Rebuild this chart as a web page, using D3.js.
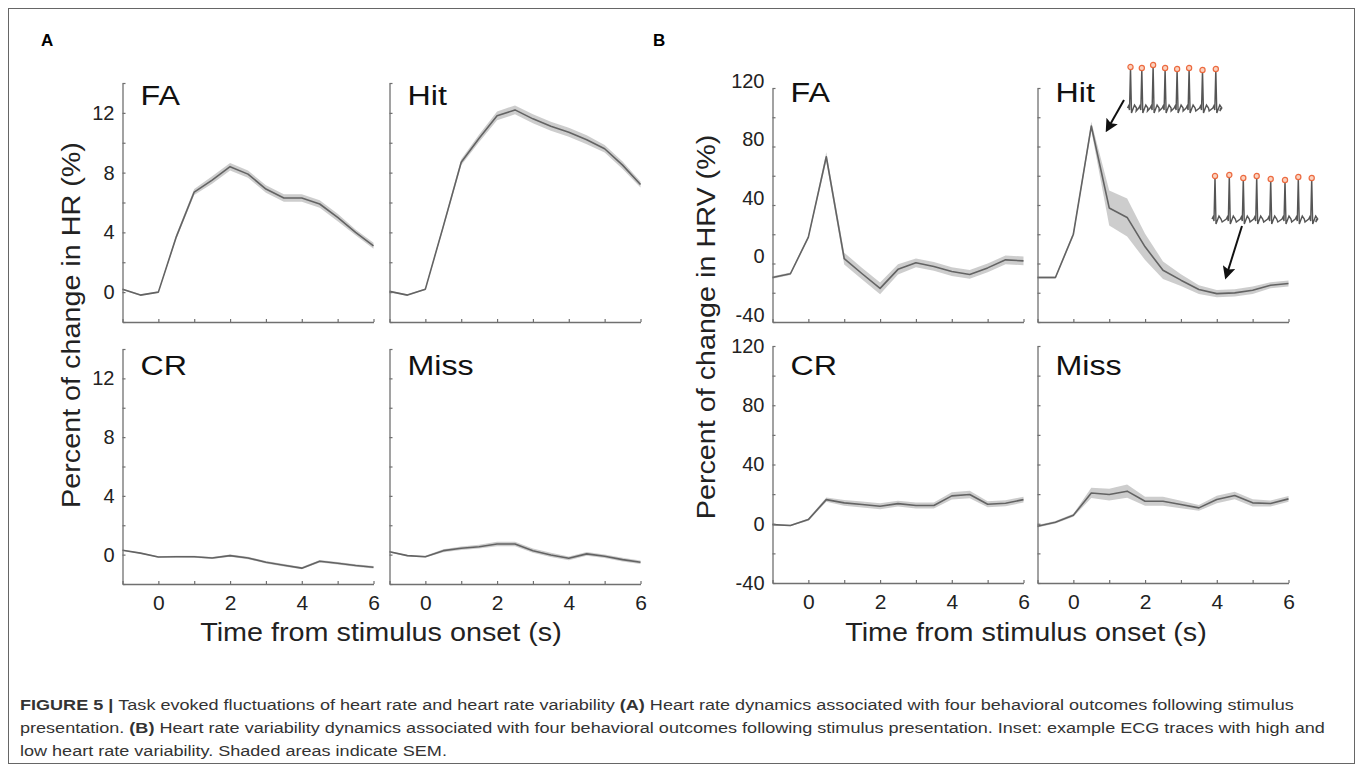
<!DOCTYPE html>
<html>
<head>
<meta charset="utf-8">
<script src="https://cdn.jsdelivr.net/npm/d3@7/dist/d3.min.js"></script>
<style>
  body { margin: 0; background: #fff; }
  text { font-family: "Liberation Sans", Arial, Helvetica, sans-serif; }
</style>
</head>
<body>
<svg id="fig" width="1358" height="773"></svg>
<script>
// time from stimulus onset (s)
var time = [-1, -0.5, 0, 0.5, 1, 1.5, 2, 2.5, 3, 3.5, 4, 4.5, 5, 5.5, 6];

// (A) percent change in HR
var hrFA   = [0.2, -0.2, 0.0, 3.7, 6.7, 7.5, 8.4, 7.9, 6.9, 6.3, 6.3, 5.9, 5.0, 4.0, 3.1];
var hrHit  = [0.05, -0.2, 0.2, 4.4, 8.7, 10.3, 11.8, 12.2, 11.6, 11.1, 10.7, 10.2, 9.6, 8.5, 7.2];
var hrCR   = [0.3, 0.1, -0.16, -0.14, -0.14, -0.23, -0.07, -0.23, -0.52, -0.72, -0.92, -0.45, -0.59, -0.74, -0.86];
var hrMiss = [0.2, -0.07, -0.14, 0.27, 0.43, 0.54, 0.72, 0.72, 0.27, -0.02, -0.25, 0.05, -0.11, -0.34, -0.52];
var hrFAsem   = [0.05, 0.05, 0.05, 0.15, 0.2, 0.25, 0.25, 0.25, 0.25, 0.25, 0.25, 0.25, 0.25, 0.2, 0.2];
var hrHitsem  = [0.05, 0.05, 0.05, 0.15, 0.2, 0.25, 0.3, 0.3, 0.3, 0.3, 0.3, 0.3, 0.25, 0.25, 0.2];
var hrCRsem   = [0.04, 0.04, 0.05, 0.06, 0.07, 0.07, 0.08, 0.08, 0.08, 0.08, 0.08, 0.08, 0.08, 0.08, 0.08];
var hrMisssem = [0.05, 0.05, 0.06, 0.1, 0.12, 0.13, 0.15, 0.15, 0.15, 0.15, 0.13, 0.13, 0.12, 0.12, 0.12];

// (B) percent change in HRV
var hrvFA   = [-9.6, -7, 18, 73, 3.4, -7, -17, -4, 0.5, -2, -5.5, -7.5, -3, 2.5, 1.8];
var hrvHit  = [-9.6, -9.6, 20, 94, 38, 31.5, 11.4, -4.6, -11.4, -17.8, -20.6, -20.1, -18.3, -14.9, -13.7];
var hrvCR   = [-0.6, -1.2, 2.8, 16.3, 14.1, 13, 11.8, 13.6, 12.3, 12.3, 18.8, 19.7, 13.2, 13.8, 16.3];
var hrvMiss = [-1.7, 1, 5.7, 20.8, 19.7, 22, 15.2, 15.2, 13, 10.7, 16.4, 19.1, 14.1, 13.7, 16.8];
var hrvFAsem   = [0.8, 0.8, 1, 3, 4, 4, 4, 3.5, 3, 3, 3, 3, 3, 3, 3];
var hrvHitsem  = [0.8, 0.8, 1.5, 3, 12, 13, 9, 6, 4, 3, 2.5, 2.5, 2.5, 2, 2];
var hrvCRsem   = [0.5, 0.5, 0.8, 1.5, 2, 2, 2, 2, 2, 2, 2.5, 2.5, 2, 2, 2];
var hrvMisssem = [0.8, 0.8, 1, 3.5, 4, 4.5, 3, 3, 2.5, 2, 2.5, 2.5, 2.5, 2, 2];

var hrTicks  = [-2, 0, 2, 4, 6, 8, 10, 12, 14];
var hrLabels = [0, 4, 8, 12];
var hrvTicks  = [-40, -20, 0, 20, 40, 60, 80, 100, 120];
var hrvLabels = [-40, 0, 40, 80, 120];
var xTicks  = [-1, 0, 1, 2, 3, 4, 5, 6];
var xLabels = [0, 2, 4, 6];

var svg = d3.select("#fig");
var axisColor = "#707070";

svg.append("rect")
  .attr("x", 8.5).attr("y", 8.5)
  .attr("width", 1346).attr("height", 755)
  .attr("fill", "none").attr("stroke", "#666").attr("stroke-width", 1);

// panel layout
var panels = [
  { name: "FA",   v: hrFA,    s: hrFAsem,    x0: 122.5, y0: 83,  y1: 322, dom: [-2, 14],   ticks: hrTicks,  labs: hrLabels,  bottom: false, lab: 0,  ty: 104.5 },
  { name: "Hit",  v: hrHit,   s: hrHitsem,   x0: 389.5, y0: 83,  y1: 322, dom: [-2, 14],   ticks: hrTicks,  labs: [],        bottom: false, lab: 0,  ty: 104.5 },
  { name: "CR",   v: hrCR,    s: hrCRsem,    x0: 122.5, y0: 349, y1: 584, dom: [-2, 14],   ticks: hrTicks,  labs: hrLabels,  bottom: true,  lab: 0,  ty: 374.5 },
  { name: "Miss", v: hrMiss,  s: hrMisssem,  x0: 389.5, y0: 349, y1: 584, dom: [-2, 14],   ticks: hrTicks,  labs: [],        bottom: true,  lab: 0,  ty: 374.5 },
  { name: "FA",   v: hrvFA,   s: hrvFAsem,   x0: 772.5, y0: 88,  y1: 322, dom: [-40, 120], ticks: hrvTicks, labs: hrvLabels, bottom: false, lab: -7, ty: 102 },
  { name: "Hit",  v: hrvHit,  s: hrvHitsem,  x0: 1037.5, y0: 88, y1: 322, dom: [-40, 120], ticks: hrvTicks, labs: [],        bottom: false, lab: 0,  ty: 102 },
  { name: "CR",   v: hrvCR,   s: hrvCRsem,   x0: 772.5, y0: 346, y1: 583, dom: [-40, 120], ticks: hrvTicks, labs: hrvLabels, bottom: true,  lab: 0,  ty: 374.5 },
  { name: "Miss", v: hrvMiss, s: hrvMisssem, x0: 1037.5, y0: 346, y1: 583, dom: [-40, 120], ticks: hrvTicks, labs: [],       bottom: true,  lab: 0,  ty: 374.5 }
];
var panelW = 251;

panels.forEach(function (p) {
  var x = d3.scaleLinear().domain([-1, 6]).range([p.x0, p.x0 + panelW]);
  var y = d3.scaleLinear().domain(p.dom).range([p.y1, p.y0]);
  var g = svg.append("g");
  var pts = time.map(function (t, i) { return { t: t, v: p.v[i], s: p.s[i] }; });

  g.append("path")
    .datum(pts)
    .attr("fill", "#c4c4c4")
    .attr("fill-opacity", 0.85)
    .attr("d", d3.area()
      .x(function (d) { return x(d.t); })
      .y0(function (d) { return y(d.v - d.s); })
      .y1(function (d) { return y(d.v + d.s); }));
  g.append("path")
    .datum(pts)
    .attr("fill", "none")
    .attr("stroke", "#636363")
    .attr("stroke-width", 1.6)
    .attr("stroke-linejoin", "round")
    .attr("d", d3.line()
      .x(function (d) { return x(d.t); })
      .y(function (d) { return y(d.v); }));

  var ya = g.append("g")
    .attr("transform", "translate(" + p.x0 + ",0)")
    .call(d3.axisLeft(y).tickValues(p.ticks).tickSize(-3).tickSizeOuter(0).tickPadding(8)
      .tickFormat(function (d) { return p.labs.indexOf(d) >= 0 ? d : ""; }));
  ya.selectAll("text").attr("font-size", 20).attr("fill", "#222").attr("y", p.lab);

  var xa = g.append("g")
    .attr("transform", "translate(0," + p.y1 + ")")
    .call(d3.axisBottom(x).tickValues(xTicks).tickSize(-3).tickSizeOuter(0).tickPadding(11)
      .tickFormat(function (d) { return p.bottom && xLabels.indexOf(d) >= 0 ? d : ""; }));
  xa.selectAll("text").attr("font-size", 21).attr("fill", "#222");

  svg.selectAll(".domain").attr("stroke", axisColor).attr("stroke-width", 1.3);
  svg.selectAll(".tick line").attr("stroke", axisColor).attr("stroke-width", 1.2);

  g.append("text")
    .attr("transform", "translate(" + (p.x0 + 18) + "," + p.ty + ") scale(1.15,1)")
    .attr("font-size", 28)
    .attr("fill", "#111")
    .text(p.name);
});

// axis titles
function wideText(x, y, rot, str) {
  svg.append("text")
    .attr("transform", "translate(" + x + "," + y + ") rotate(" + rot + ") scale(1.15,1)")
    .attr("text-anchor", "middle")
    .attr("font-size", 25)
    .attr("fill", "#222")
    .text(str);
}
wideText(381, 641, 0, "Time from stimulus onset (s)");
wideText(1026, 641, 0, "Time from stimulus onset (s)");
wideText(80, 325, -90, "Percent of change in HR (%)");
wideText(715, 327, -90, "Percent of change in HRV (%)");

// panel letters
svg.append("text").attr("x", 41).attr("y", 46).attr("font-size", 17).attr("font-weight", "bold").text("A");
svg.append("text").attr("x", 653).attr("y", 46).attr("font-size", 17).attr("font-weight", "bold").text("B");

// insets: example ECG traces (high / low HRV)
var ecgHigh = [0, 11.3, 22.6, 34.6, 46.6, 58.6, 72, 85.3];
var ecgHighTop = [3, 4, 1, 4, 5, 4, 6, 5];
var ecgLow = [0, 14.3, 28.3, 41.7, 55.7, 70, 83.3, 96.7];
var ecgLowTop = [1, 0, 3, 1, 4, 5, 2, 3];
function drawEcg(ox, oy, beats, tops) {
  var ig = svg.append("g").attr("transform", "translate(" + ox + "," + oy + ")");
  var d = "M-3,44";
  beats.forEach(function (b, i) {
    var next = i < beats.length - 1 ? beats[i + 1] : b + 8;
    d += " L" + (b - 2) + ",42 L" + (b - 1) + ",46 L" + b + "," + tops[i] +
      " L" + (b + 1) + ",49 L" + (b + 2.5) + ",45 L" + (b + 4) + ",41 L" + (b + 6) + ",44" +
      " L" + ((b + next) / 2) + ",47 L" + (next - 3) + ",44";
  });
  ig.append("path").attr("d", d).attr("fill", "none").attr("stroke", "#555").attr("stroke-width", 1.4);
  ig.selectAll("circle").data(beats).enter().append("circle")
    .attr("cx", function (b) { return b; })
    .attr("cy", function (b, i) { return tops[i]; })
    .attr("r", 2.6)
    .attr("fill", "#fbd3c0")
    .attr("stroke", "#ec6a3f")
    .attr("stroke-width", 1.2);
}
drawEcg(1130.5, 64, ecgHigh, ecgHighTop);
drawEcg(1215, 175, ecgLow, ecgLowTop);

svg.append("defs").append("marker")
  .attr("id", "arr").attr("viewBox", "0 0 10 10")
  .attr("refX", 8).attr("refY", 5)
  .attr("markerWidth", 6.5).attr("markerHeight", 6.5)
  .attr("orient", "auto")
  .append("path").attr("d", "M0,0 L10,5 L0,10 L2,5 Z").attr("fill", "#111");
svg.append("line").attr("x1", 1124).attr("y1", 100).attr("x2", 1107).attr("y2", 130)
  .attr("stroke", "#111").attr("stroke-width", 2).attr("marker-end", "url(#arr)");
svg.append("line").attr("x1", 1242).attr("y1", 226).attr("x2", 1226).attr("y2", 277)
  .attr("stroke", "#111").attr("stroke-width", 2).attr("marker-end", "url(#arr)");

// caption, uniformly condensed so the first line fills its width
var cap = svg.append("g").attr("font-size", 15.5).attr("fill", "#333");
var l1 = cap.append("text").attr("y", 710);
l1.append("tspan").attr("font-weight", "bold").text("FIGURE 5 | ");
l1.append("tspan").text("Task evoked fluctuations of heart rate and heart rate variability ");
l1.append("tspan").attr("font-weight", "bold").text("(A) ");
l1.append("tspan").text("Heart rate dynamics associated with four behavioral outcomes following stimulus");
var l2 = cap.append("text").attr("y", 733);
l2.append("tspan").text("presentation. ");
l2.append("tspan").attr("font-weight", "bold").text("(B) ");
l2.append("tspan").text("Heart rate variability dynamics associated with four behavioral outcomes following stimulus presentation. Inset: example ECG traces with high and");
var l3 = cap.append("text").attr("y", 756)
  .text("low heart rate variability. Shaded areas indicate SEM.");
var k = 1275 / l1.node().getComputedTextLength();
cap.attr("transform", "translate(20,0) scale(" + k + ",1)");
</script>
</body>
</html>
